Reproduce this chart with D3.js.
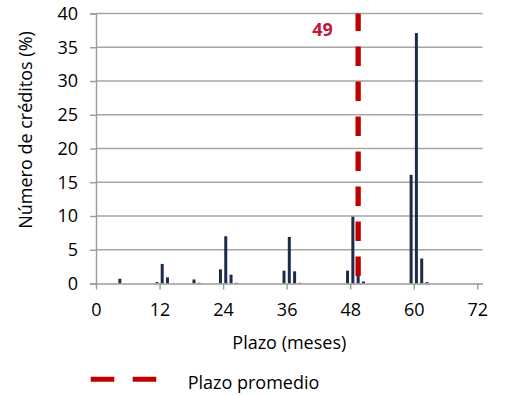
<!DOCTYPE html>
<html>
<head>
<meta charset="utf-8">
<script src="https://cdn.jsdelivr.net/npm/d3@7"></script>
<style>
  html, body { margin: 0; padding: 0; background: #ffffff; }
  svg { display: block; font-family: "Open Sans", sans-serif; }
</style>
</head>
<body>
<svg id="chart" width="506" height="396"></svg>
<script>
// Data
const months = [4, 11, 12, 13, 18, 19, 23, 24, 25, 26, 35, 36, 37, 38, 47, 48, 49, 50, 59, 60, 61, 62];
const pct    = [0.7, 0.2, 2.9, 0.9, 0.6, 0.1, 2.1, 7.0, 1.3, 0.1, 1.9, 6.9, 1.8, 0.1, 1.9, 9.9, 1.5, 0.3, 16.1, 37.1, 3.7, 0.2];
const xTicks = [0, 12, 24, 36, 48, 60, 72];
const yTicks = [0, 5, 10, 15, 20, 25, 30, 35, 40];
const meanTerm = 49;
const meanLabel = "49";
const xTitle = "Plazo (meses)";
const yTitle = "Número de créditos (%)";
const legendLabel = "Plazo promedio";

(function () {
const svg = d3.select("#chart");
const mLeft = 96, mRight = 482.6, mTop = 13.5, mBottom = 283.5;

const x = d3.scaleLinear().domain([0, 73]).range([mLeft, mRight]);
const y = d3.scaleLinear().domain([0, 40]).range([mBottom, mTop]);
const barW = 3;

const gridColor = "#a6a6a6";
const axisColor = "#9a9a9a";
const barColor = "#1c2d4b";
const meanColor = "#c00000";
const labelColor = "#c0163c";

// gridlines
svg.append("g")
  .selectAll("line")
  .data(yTicks.filter(d => d > 0))
  .join("line")
  .attr("x1", mLeft).attr("x2", mRight)
  .attr("y1", d => y(d)).attr("y2", d => y(d))
  .attr("stroke", gridColor).attr("stroke-width", 1.4);

// bars
svg.append("g")
  .selectAll("rect")
  .data(months.map((m, i) => ({ m, v: pct[i] })))
  .join("rect")
  .attr("x", d => x(d.m + 0.5) - barW / 2)
  .attr("width", barW)
  .attr("y", d => y(d.v))
  .attr("height", d => y(0) - y(d.v))
  .attr("fill", barColor);

// y axis
const yAxis = d3.axisLeft(y).tickValues(yTicks).tickSize(6).tickPadding(12);
const gy = svg.append("g").attr("transform", `translate(${mLeft},0)`).call(yAxis);
gy.select(".domain").attr("stroke", axisColor).attr("stroke-width", 1.4);
gy.selectAll(".tick line").attr("stroke", axisColor).attr("stroke-width", 1.4);
gy.selectAll(".tick text").attr("font-size", 18).attr("fill", "#000")
  .attr("font-family", "Open Sans, sans-serif");

// x axis
const xAxis = d3.axisBottom(x).tickValues(xTicks).tickSize(6).tickPadding(14).tickSizeOuter(0);
const gx = svg.append("g").attr("transform", `translate(0,${mBottom})`).call(xAxis);
gx.select(".domain").attr("stroke", axisColor).attr("stroke-width", 1.4);
gx.selectAll(".tick line").attr("stroke", axisColor).attr("stroke-width", 1.4);
gx.selectAll(".tick text").attr("font-size", 18).attr("fill", "#000")
  .attr("font-family", "Open Sans, sans-serif");

// mean line
svg.append("line")
  .attr("x1", x(meanTerm + 0.5)).attr("x2", x(meanTerm + 0.5))
  .attr("y1", y(40)).attr("y2", y(0))
  .attr("stroke", meanColor).attr("stroke-width", 5.3)
  .attr("stroke-dasharray", "19.5,15.5").attr("stroke-dashoffset", 2.1);

svg.append("text")
  .attr("x", 322.5).attr("y", 36)
  .attr("text-anchor", "middle")
  .attr("font-size", 18).attr("font-weight", "bold")
  .attr("fill", labelColor)
  .text(meanLabel);

// axis titles
svg.append("text")
  .attr("x", (mLeft + mRight) / 2).attr("y", 349)
  .attr("text-anchor", "middle").attr("font-size", 18).attr("fill", "#000")
  .text(xTitle);

svg.append("text")
  .attr("transform", "translate(32,130) rotate(-90)")
  .attr("text-anchor", "middle").attr("font-size", 18).attr("fill", "#000")
  .text(yTitle);

// legend
svg.append("line")
  .attr("x1", 90.7).attr("x2", 156.7)
  .attr("y1", 379.2).attr("y2", 379.2)
  .attr("stroke", meanColor).attr("stroke-width", 5)
  .attr("stroke-dasharray", "23.6,18.4");

svg.append("text")
  .attr("x", 187.7).attr("y", 389)
  .attr("font-size", 18).attr("fill", "#000")
  .text(legendLabel);
})();
</script>
</body>
</html>
